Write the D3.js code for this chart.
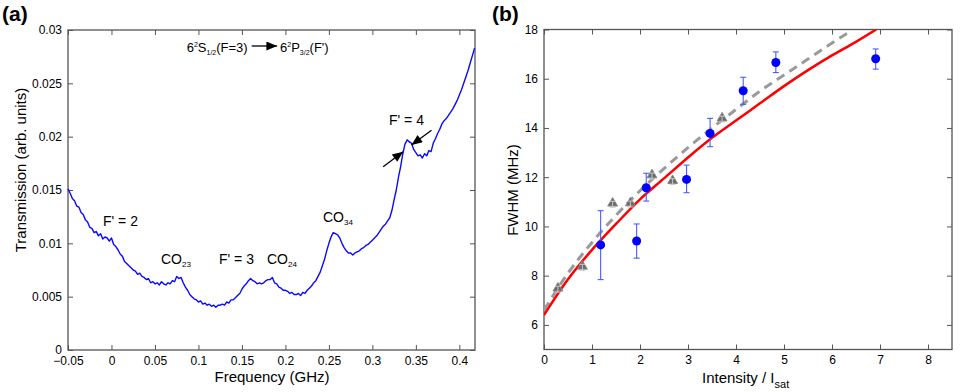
<!DOCTYPE html>
<html><head><meta charset="utf-8">
<script src="https://cdn.jsdelivr.net/npm/d3@7"></script>
<style>
body{margin:0;background:#fff}
text{font-family:"Liberation Sans",Arial,Helvetica,sans-serif}
</style>
</head><body>
<svg id="chart" width="970" height="392"></svg>
<script>
// ---------- Panel (a) data ----------
const specFreq = [
-0.05,-0.0475,-0.045,-0.0425,-0.04,-0.0375,-0.035,-0.0325,-0.03,-0.0275,
-0.025,-0.0225,-0.02,-0.0175,-0.015,-0.0125,-0.01,-0.0075,-0.005,-0.0025,
0,0.0025,0.005,0.0075,0.01,0.0125,0.015,0.0175,0.02,0.0225,
0.025,0.0275,0.03,0.0325,0.035,0.0375,0.04,0.0425,0.045,0.0475,
0.05,0.0525,0.055,0.0575,0.06,0.0625,0.065,0.0675,0.07,0.0725,
0.075,0.0775,0.08,0.0825,0.085,0.0875,0.09,0.0925,0.095,0.0975,
0.1,0.1025,0.105,0.1075,0.11,0.1125,0.115,0.1175,0.12,0.1225,
0.125,0.1275,0.13,0.1325,0.135,0.1375,0.14,0.1425,0.145,0.1475,
0.15,0.1525,0.155,0.1575,0.16,0.1625,0.165,0.1675,0.17,0.1725,
0.175,0.1775,0.18,0.1825,0.185,0.1875,0.19,0.1925,0.195,0.1975,
0.2,0.2025,0.205,0.2075,0.21,0.2125,0.215,0.2175,0.22,0.2225,
0.225,0.2275,0.23,0.2325,0.235,0.2375,0.24,0.2425,0.245,0.2475,
0.25,0.2525,0.255,0.2575,0.26,0.2625,0.265,0.2675,0.27,0.2725,
0.275,0.2775,0.28,0.2825,0.285,0.2875,0.29,0.2925,0.295,0.2975,
0.3,0.3025,0.305,0.3075,0.31,0.3125,0.315,0.3175,0.32,0.3225,
0.325,0.3275,0.33,0.3325,0.335,0.3375,0.34,0.3425,0.345,0.3475,
0.35,0.3525,0.355,0.3575,0.36,0.3625,0.365,0.3675,0.37,0.3725,
0.375,0.3775,0.38,0.3825,0.385,0.3875,0.39,0.3925,0.395,0.3975,
0.4,0.4025,0.405,0.4075,0.41,0.4125,0.415,0.4175];
const specTrans = [
0.0151,0.0147,0.0142,0.0140,0.0135,0.0134,0.0129,0.0127,0.0122,0.0120,
0.0115,0.0114,0.0110,0.0111,0.0107,0.0109,0.0104,0.0106,0.0105,0.0102,
0.0105,0.0099,0.0097,0.0094,0.0090,0.0088,0.0083,0.0081,0.0079,0.0077,
0.0075,0.0074,0.0071,0.0072,0.0069,0.0068,0.0066,0.0067,0.0063,0.0064,
0.0062,0.0063,0.0061,0.0064,0.0062,0.0061,0.0063,0.0062,0.0065,0.0064,
0.0069,0.0067,0.0068,0.0063,0.0059,0.0056,0.0052,0.0050,0.0048,0.0047,
0.0045,0.0046,0.0043,0.0044,0.0042,0.0043,0.0041,0.0042,0.0040,0.0042,
0.0042,0.0043,0.0042,0.0045,0.0044,0.0047,0.0047,0.0049,0.0051,0.0053,
0.0057,0.0060,0.0062,0.0065,0.0067,0.0065,0.0064,0.0062,0.0063,0.0062,
0.0063,0.0065,0.0066,0.0066,0.0068,0.0063,0.0062,0.0059,0.0058,0.0056,
0.0056,0.0055,0.0053,0.0054,0.0052,0.0052,0.0053,0.0051,0.0054,0.0053,
0.0056,0.0058,0.0060,0.0063,0.0065,0.0069,0.0073,0.0079,0.0085,0.0093,
0.0100,0.0106,0.0110,0.0109,0.0108,0.0105,0.0100,0.0096,0.0093,0.0091,
0.0091,0.0089,0.0091,0.0092,0.0093,0.0095,0.0096,0.0098,0.0099,0.0101,
0.0103,0.0105,0.0107,0.0110,0.0113,0.0116,0.0118,0.0121,0.0124,0.0131,
0.0141,0.0150,0.0162,0.0172,0.0184,0.0193,0.0197,0.0195,0.0194,0.0188,
0.0185,0.0182,0.0183,0.0180,0.0184,0.0182,0.0187,0.0186,0.0194,0.0198,
0.0203,0.0207,0.0212,0.0215,0.0217,0.0220,0.0223,0.0226,0.0230,0.0234,
0.0239,0.0244,0.0250,0.0256,0.0262,0.0269,0.0276,0.0283];
const freqTicks = [-0.05,0,0.05,0.1,0.15,0.2,0.25,0.3,0.35,0.4];
const transTicks = [0,0.005,0.01,0.015,0.02,0.025,0.03];

// ---------- Panel (b) data ----------
const blueIntensity = [1.18,1.93,2.13,2.97,3.46,4.15,4.83,6.91];
const blueFwhm      = [9.25,9.41,11.57,11.91,13.78,15.51,16.66,16.81];
const blueLow       = [7.84,8.71,11.03,11.37,13.24,14.96,16.25,16.39];
const blueHigh      = [10.64,10.10,12.16,12.49,14.39,16.06,17.09,17.21];
const triIntensity  = [0.29,0.80,1.43,1.80,2.25,2.68,3.71];
const triFwhm       = [7.45,8.34,10.90,10.91,12.05,11.82,14.36];
const redFitI = [0,0.5,1,1.5,2,2.5,3,3.5,4,4.5,5,5.5,6,6.5,6.92];
const redFitW = [6.4,7.85,9.05,10.1,11.1,11.95,12.8,13.6,14.3,15.0,15.7,16.35,16.95,17.5,18.0];
const grayFitI = [0,0.5,1,1.5,2,2.5,3,3.5,4,4.5,5,5.5,6,6.32];
const grayFitW = [6.6,8.1,9.35,10.45,11.45,12.35,13.2,14.0,14.75,15.5,16.15,16.8,17.45,17.85];
const intTicks = [0,1,2,3,4,5,6,7,8];
const fwhmTicks = [6,8,10,12,14,16,18];

const svg = d3.select("#chart");
const frameColor = "#555";

function frame(g, x, y, xTicks, yTicks, xFmt, yFmt) {
  const [x0, x1] = x.range(), [y0, y1] = y.range();
  const b = g.append("g").attr("transform", `translate(0,${y0})`)
    .call(d3.axisBottom(x).tickValues(xTicks).tickSizeInner(-5).tickSizeOuter(0).tickPadding(6).tickFormat(xFmt));
  const t = g.append("g").attr("transform", `translate(0,${y1})`)
    .call(d3.axisTop(x).tickValues(xTicks).tickSizeInner(-5).tickSizeOuter(0).tickFormat(""));
  const l = g.append("g").attr("transform", `translate(${x0},0)`)
    .call(d3.axisLeft(y).tickValues(yTicks).tickSizeInner(-5).tickSizeOuter(0).tickPadding(6).tickFormat(yFmt));
  const r = g.append("g").attr("transform", `translate(${x1},0)`)
    .call(d3.axisRight(y).tickValues(yTicks).tickSizeInner(-5).tickSizeOuter(0).tickFormat(""));
  [b, t, l, r].forEach(a => {
    a.select(".domain").remove();
    a.selectAll("line").attr("stroke", frameColor).attr("stroke-width", 1);
    a.selectAll("text").attr("font-size", 12).attr("fill", "#000")
      .style("font-family", '"Liberation Sans",Arial,sans-serif');
  });
  g.append("rect").attr("x", x0).attr("y", y1).attr("width", x1 - x0).attr("height", y0 - y1)
    .attr("fill", "none").attr("stroke", frameColor).attr("stroke-width", 1.3);
}

// ================= Panel (a) =================
const xa = d3.scaleLinear().domain([-0.05, 0.418]).range([68, 475]);
const ya = d3.scaleLinear().domain([0, 0.03]).range([350, 30]);
const ga = svg.append("g");
const fmtA = d => d === 0 ? "0" : d3.format("")(d).replace("-", "\u2212");
frame(ga, xa, ya, freqTicks, transTicks, fmtA, fmtA);

const spec = specFreq.map((f, i) => [f, specTrans[i]]);
ga.append("path").datum(spec)
  .attr("d", d3.line().x(d => xa(d[0])).y(d => ya(d[1])))
  .attr("fill", "none").attr("stroke", "#0a0aff").attr("stroke-width", 1.4)
  .attr("stroke-linejoin", "round");

// annotations (a)
function label(g, x, y, main, sub, size) {
  const t = g.append("text").attr("x", x).attr("y", y).attr("font-size", size || 14).attr("fill", "#000");
  t.append("tspan").text(main);
  if (sub) t.append("tspan").attr("font-size", 8).attr("dy", 3).text(sub);
  return t;
}
label(ga, xa(-0.0098), ya(0.01163), "F' = 2");
label(ga, xa(0.0569), ya(0.00806), "CO", "23");
label(ga, xa(0.1236), ya(0.00806), "F' = 3");
label(ga, xa(0.1788), ya(0.00806), "CO", "24");
label(ga, xa(0.2432), ya(0.0120), "CO", "34");
label(ga, xa(0.3191), ya(0.0211), "F' = 4");

// title line
const tt = ga.append("text").attr("x", xa(0.0865)).attr("y", ya(0.02797)).attr("font-size", 13).attr("fill", "#000");
tt.append("tspan").text("6");
tt.append("tspan").attr("font-size", 7).attr("dy", -5).text("2");
tt.append("tspan").attr("dy", 5).text("S");
tt.append("tspan").attr("font-size", 7).attr("dy", 3).text("1/2");
tt.append("tspan").attr("dy", -3).text("(F=3)");
const tt2 = ga.append("text").attr("x", xa(0.1938)).attr("y", ya(0.02797)).attr("font-size", 13).attr("fill", "#000");
tt2.append("tspan").text("6");
tt2.append("tspan").attr("font-size", 7).attr("dy", -5).text("2");
tt2.append("tspan").attr("dy", 5).text("P");
tt2.append("tspan").attr("font-size", 7).attr("dy", 3).text("3/2");
tt2.append("tspan").attr("dy", -3).text("(F')");

svg.append("defs").append("marker").attr("id", "ah")
  .attr("viewBox", "0 0 12 10").attr("refX", 12).attr("refY", 5)
  .attr("markerWidth", 13).attr("markerHeight", 9).attr("markerUnits", "userSpaceOnUse")
  .attr("orient", "auto")
  .append("path").attr("d", "M0,0 L12,5 L0,10 Z").attr("fill", "#000");

function arrow(g, x1, y1, x2, y2) {
  g.append("line").attr("x1", x1).attr("y1", y1).attr("x2", x2).attr("y2", y2)
    .attr("stroke", "#000").attr("stroke-width", 1.3).attr("marker-end", "url(#ah)");
}
arrow(ga, xa(0.1612), ya(0.0285), xa(0.1905), ya(0.0285));
arrow(ga, xa(0.3124), ya(0.01718), xa(0.3354), ya(0.01859));
arrow(ga, xa(0.368), ya(0.0206), xa(0.345), ya(0.01922));

// axis labels (a)
ga.append("text").attr("x", 272).attr("y", 382).attr("text-anchor", "middle").attr("font-size", 15).text("Frequency (GHz)");
ga.append("text").attr("transform", "translate(26,170) rotate(-90)").attr("text-anchor", "middle")
  .attr("font-size", 15).text("Transmission (arb. units)");
ga.append("text").attr("x", 2).attr("y", 21).attr("font-size", 21).attr("font-weight", "bold").text("(a)");

// ================= Panel (b) =================
const xb = d3.scaleLinear().domain([0, 8.5]).range([544, 952]);
const yb = d3.scaleLinear().domain([5, 18]).range([349.5, 29.5]);
const gb = svg.append("g");
frame(gb, xb, yb, intTicks, fwhmTicks, d3.format("d"), d3.format("d"));

svg.append("clipPath").attr("id", "cb").append("rect")
  .attr("x", 544).attr("y", 29.5).attr("width", 408).attr("height", 320);

gb.append("path").datum(grayFitI.map((v, i) => [v, grayFitW[i]]))
  .attr("d", d3.line().curve(d3.curveMonotoneX).x(d => xb(d[0])).y(d => yb(d[1])))
  .attr("fill", "none").attr("stroke", "#9a9a9a").attr("stroke-width", 3)
  .attr("stroke-dasharray", "9,6").attr("clip-path", "url(#cb)");

gb.append("path").datum(redFitI.map((v, i) => [v, redFitW[i]]))
  .attr("d", d3.line().curve(d3.curveMonotoneX).x(d => xb(d[0])).y(d => yb(d[1])))
  .attr("fill", "none").attr("stroke", "#ff0000").attr("stroke-width", 2.5).attr("clip-path", "url(#cb)");

// triangles
triIntensity.forEach((v, i) => {
  const cx = xb(v), cy = yb(triFwhm[i]);
  gb.append("path").attr("d", d3.symbol(d3.symbolTriangle, 42)())
    .attr("transform", `translate(${cx},${cy - 1})`).attr("fill", "#6a6a6a").attr("stroke", "#8a8a8a").attr("stroke-width", 1);
  const lo = yb(triFwhm[i] - 0.12), hi = yb(triFwhm[i] + 0.12);
  gb.append("line").attr("x1", cx).attr("x2", cx).attr("y1", lo).attr("y2", hi).attr("stroke", "#c8c8c8").attr("stroke-width", 1);
  [lo, hi].forEach(yy => gb.append("line").attr("x1", cx - 3).attr("x2", cx + 3).attr("y1", yy).attr("y2", yy)
    .attr("stroke", "#c8c8c8").attr("stroke-width", 1));
});

// blue points with error bars
blueIntensity.forEach((v, i) => {
  const cx = xb(v), lo = yb(blueLow[i]), hi = yb(blueHigh[i]);
  gb.append("line").attr("x1", cx).attr("x2", cx).attr("y1", lo).attr("y2", hi).attr("stroke", "#4a5cff").attr("stroke-width", 1.1);
  [lo, hi].forEach(yy => gb.append("line").attr("x1", cx - 3).attr("x2", cx + 3).attr("y1", yy).attr("y2", yy)
    .attr("stroke", "#4a5cff").attr("stroke-width", 1.1));
  gb.append("circle").attr("cx", cx).attr("cy", yb(blueFwhm[i])).attr("r", 4.5).attr("fill", "#0000ff");
});

// axis labels (b)
const xl = gb.append("text").attr("x", 702).attr("y", 383).attr("font-size", 15);
xl.append("tspan").text("Intensity /  I");
xl.append("tspan").attr("font-size", 11).attr("dy", 5).text("sat");
gb.append("text").attr("transform", "translate(518,190) rotate(-90)").attr("text-anchor", "middle")
  .attr("font-size", 15).text("FWHM (MHz)");
gb.append("text").attr("x", 492).attr("y", 21).attr("font-size", 21).attr("font-weight", "bold").text("(b)");
</script>
</body></html>
